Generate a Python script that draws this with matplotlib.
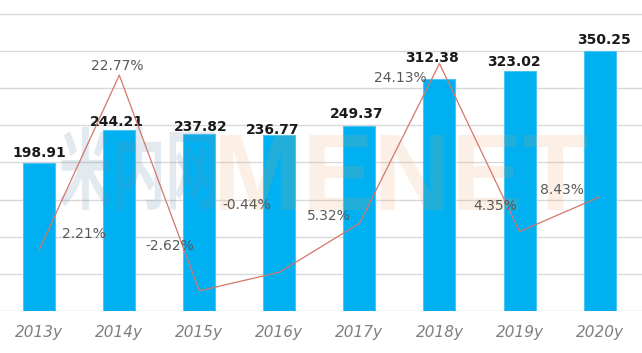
import matplotlib
matplotlib.use("Agg")
import matplotlib.pyplot as plt
from matplotlib.textpath import TextPath
from matplotlib.patches import PathPatch
from matplotlib.font_manager import FontProperties
from matplotlib.transforms import Affine2D

# ---- data ----
years = ['2013y', '2014y', '2015y', '2016y', '2017y', '2018y', '2019y', '2020y']
revenue = [198.91, 244.21, 237.82, 236.77, 249.37, 312.38, 323.02, 350.25]
growth = [2.21, 22.77, -2.62, -0.44, 5.32, 24.13, 4.35, 8.43]

# ---- label placement (pixel offsets) ----
value_offsets = [(0, 10), (-2.5, 8), (1, 7.5), (-6.5, 5), (-2.5, 12), (-7, 21), (-6, 8.5), (4, 10.5)]
growth_offsets = [(45, 15.6), (-2.5, 9.6), (-29.5, 44.4), (-33, 67.5), (-31, 7),
                  (-39.5, -14.7), (-24.5, 26), (-37.5, 7.4)]

W, H = 642, 353
fig = plt.figure(figsize=(W / 100, H / 100), dpi=100)
ax = fig.add_axes([0, 1 - 311 / H, 1, 298 / H])
x = list(range(len(years)))

ax.bar(x, revenue, width=0.4, color='#00B0F0', edgecolor='#4DC4F2', linewidth=0.8, zorder=2)
ax.set_xlim(-0.49, 7.53)
ax.set_ylim(0, 401)
ax.set_yticks(range(0, 401, 50))
ax.yaxis.grid(True, color='#D9D9D9', linewidth=1)
ax.set_axisbelow(True)
ax.tick_params(axis='y', length=0, labelleft=False)
ax.set_xticks(x)
ax.set_xticklabels(years, fontsize=11, style='italic', color='#7F7F7F')
ax.tick_params(axis='x', length=0, pad=10)
for s in ax.spines.values():
    s.set_visible(False)


def watermark(text, family, box, color, alpha):
    tp = TextPath((0, 0), text, size=100, prop=FontProperties(family=family, weight='bold'))
    bb = tp.get_extents()
    x0, y0, x1, y1 = box
    sx = (x1 - x0) / W / bb.width
    sy = (y1 - y0) / H / bb.height
    tr = Affine2D().translate(-bb.x0, -bb.y0).scale(sx, sy).translate(x0 / W, 1 - y1 / H) + fig.transFigure
    p = PathPatch(tp, transform=tr, facecolor=color, edgecolor='none', alpha=alpha, zorder=3)
    ax.add_patch(p)


watermark('米内网', 'Noto Sans CJK SC', (60, 127, 215, 210), '#6E96AF', 0.2)
watermark('MENET', 'Liberation Sans', (220, 135, 587, 210), '#F0A05A', 0.15)

for i, v in enumerate(revenue):
    ax.annotate(f'{v:.2f}', (i, v), xytext=value_offsets[i], textcoords='offset pixels',
                ha='center', va='center', fontsize=10, fontweight='bold', color='#1A1A1A', zorder=5)

ax2 = ax.twinx()
ax2.set_ylim(-5, -5 + 35 * 401 / 400)
ax2.plot(x, growth, color='#D4766C', linewidth=0.9, zorder=3)
ax2.set_yticks([])
for s in ax2.spines.values():
    s.set_visible(False)
for i, g in enumerate(growth):
    ax2.annotate(f'{g:.2f}%', (i, g), xytext=growth_offsets[i], textcoords='offset pixels',
                 ha='center', va='center', fontsize=10, color='#595959', zorder=5)

fig.savefig('out.png', dpi=100)
